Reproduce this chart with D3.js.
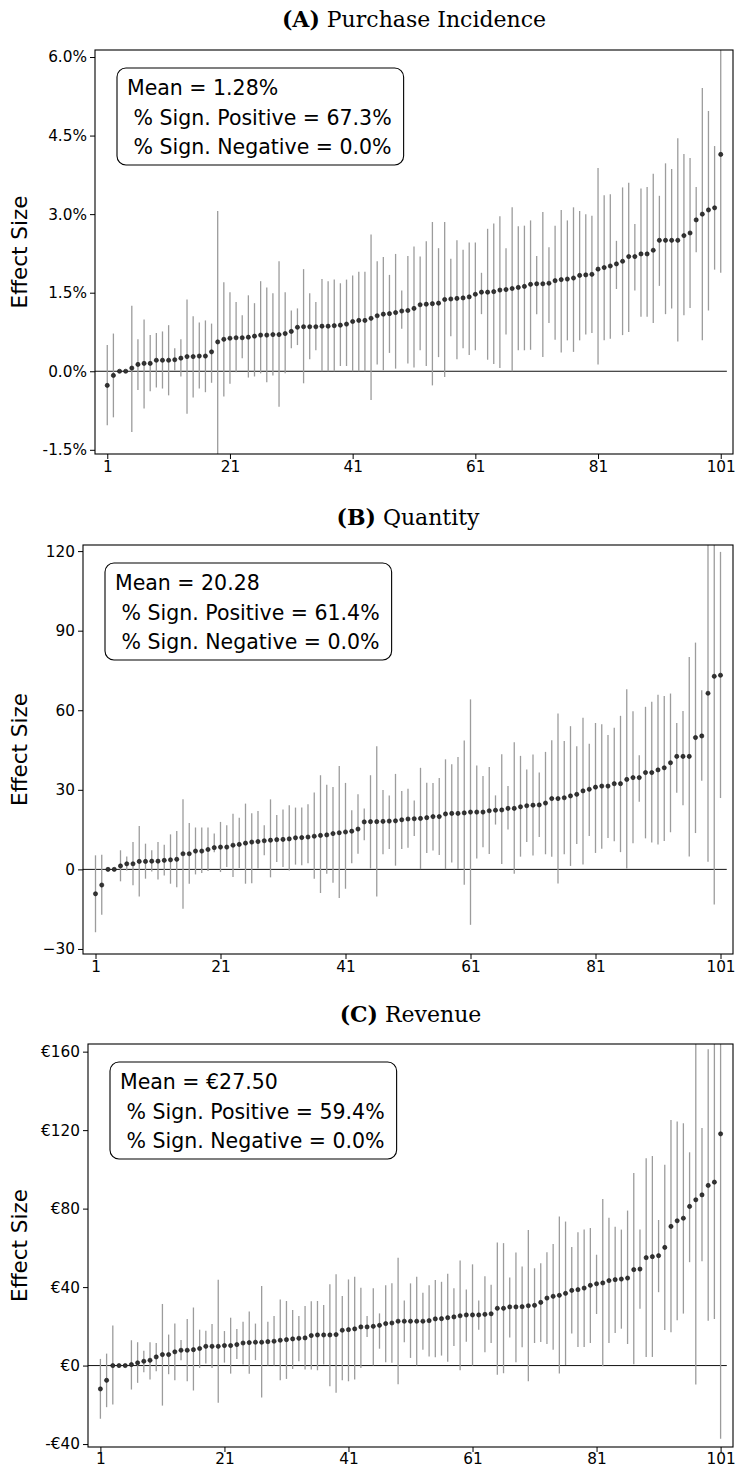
<!DOCTYPE html>
<html><head><meta charset="utf-8">
<script src="https://cdn.jsdelivr.net/npm/d3@7"></script>
<style>body{margin:0;background:#fff}svg{display:block}</style>
</head><body>
<svg id="chart" width="737" height="1468"></svg>
<script>
// ---------- DATA ----------
const xTicks = [1, 21, 41, 61, 81, 101];

const aValues = [-0.27,-0.08,0.00,0.00,0.06,0.13,0.15,0.15,0.21,0.21,0.21,0.22,0.25,0.28,0.28,0.29,0.29,0.37,0.56,0.61,
0.63,0.64,0.64,0.65,0.67,0.69,0.69,0.70,0.70,0.72,0.76,0.84,0.85,0.85,0.85,0.86,0.86,0.87,0.88,0.90,
0.95,0.97,0.97,1.01,1.06,1.09,1.10,1.12,1.15,1.16,1.20,1.27,1.28,1.29,1.30,1.37,1.38,1.39,1.40,1.42,
1.47,1.51,1.51,1.52,1.55,1.56,1.58,1.60,1.62,1.66,1.67,1.67,1.68,1.73,1.75,1.76,1.78,1.83,1.84,1.85,
1.95,1.98,2.01,2.05,2.10,2.19,2.19,2.24,2.24,2.31,2.50,2.50,2.50,2.50,2.59,2.64,2.89,3.00,3.08,3.12,4.14];
const aLower = [-1.03,-0.88,0.00,0.00,-1.16,-0.36,-0.71,-0.38,-0.31,-0.33,-0.46,0.02,-0.10,-0.81,-0.50,-0.33,-0.40,-0.22,-1.80,-0.48,
-0.24,-0.02,0.25,-0.12,-0.10,-0.04,-0.21,-0.08,-0.68,-0.04,0.44,0.50,-0.23,0.23,0.40,0.00,0.00,0.00,0.10,0.10,
0.00,0.00,0.00,-0.55,0.13,0.02,0.35,0.05,0.81,0.15,0.07,0.40,0.10,-0.27,0.27,-0.11,0.67,0.23,0.44,0.31,
0.40,1.09,0.22,0.14,0.06,0.70,0.00,0.40,0.40,0.41,1.09,0.27,0.92,0.60,0.36,0.59,0.37,0.59,0.70,0.73,
0.13,0.59,0.62,1.57,0.69,0.75,1.54,1.04,1.04,0.92,1.63,1.09,1.20,0.57,1.07,1.21,2.27,0.59,1.16,1.94,1.88];
const aUpper = [0.50,0.72,0.00,0.00,1.25,0.61,0.99,0.69,0.73,0.76,0.88,0.44,0.61,1.37,1.05,0.93,0.97,0.91,3.06,1.70,
1.51,1.32,1.07,1.45,1.30,1.72,1.60,1.49,2.10,1.51,1.16,1.20,1.95,1.49,1.32,1.76,1.72,1.75,1.68,1.75,
1.83,1.90,1.90,2.61,2.10,2.18,1.84,2.24,1.54,2.20,2.38,2.19,2.48,2.85,2.35,2.85,2.15,2.50,2.32,2.46,
2.46,1.88,2.72,2.82,2.96,2.35,3.13,2.77,2.78,2.88,2.20,3.04,2.37,2.78,3.08,2.88,3.13,3.06,3.00,2.97,
3.88,3.36,3.38,2.49,3.51,3.60,2.81,3.49,3.52,3.77,3.35,3.97,3.86,4.45,4.15,4.07,3.52,5.41,4.97,4.30,6.50];
const aTickValues = [-1.5, 0, 1.5, 3, 4.5, 6];
const aTickLabels = ["-1.5%", "0.0%", "1.5%", "3.0%", "4.5%", "6.0%"];
const aBoxLines = ["Mean = 1.28%", " % Sign. Positive = 67.3%", " % Sign. Negative = 0.0%"];

const bValues = [-9.2,-5.9,0,0,1.3,2.1,2.1,3.0,3.0,3.1,3.1,3.4,3.6,3.8,5.9,5.9,6.9,6.9,7.5,8.2,
8.4,8.4,9.1,9.4,9.9,10.3,10.5,10.8,11.0,11.2,11.3,11.5,11.9,12.0,12.2,12.5,12.8,13.0,13.5,13.8,
14.1,14.4,15.2,17.9,18.0,18.0,18.1,18.2,18.3,18.7,19.0,19.1,19.2,19.5,19.9,19.9,20.9,21.1,21.1,21.3,
21.6,21.6,21.6,22.1,22.3,22.4,23.0,23.0,23.6,24.0,24.2,24.3,25.0,26.7,26.7,27.0,27.7,28.3,29.6,30.2,
31.0,31.4,31.4,32.3,32.3,33.9,34.6,34.6,36.5,36.5,37.5,38.3,40.2,42.6,42.6,42.6,49.7,50.3,66.4,72.8,73.2];
const bLower = [-23.7,-17.1,0,0,-4.5,-0.4,-6.0,-10.2,-3.5,-0.8,-3.8,-2.3,-5.4,-6.7,-14.8,-5.4,-1.9,-1.4,-0.6,6.5,
-1.0,0.9,-2.9,0.5,-5.4,-5.2,0.3,5.3,-3.0,2.8,0.9,-0.4,1.8,1.6,2.3,-3.5,-8.9,-1.6,-5.0,-10.8,
-7.3,2.3,5.9,11.0,0.3,-10.2,5.7,7.7,1.4,7.7,8.2,12.6,0.1,6.2,7.1,5.4,0.1,2.6,0.1,-5.8,
-20.9,4.1,8.3,5.8,16.9,2.0,15.0,-1.6,4.8,10.3,5.2,12.2,5.7,4.8,-5.3,5.7,1.3,9.6,1.8,12.6,
6.2,7.8,11.8,10.6,6.5,0.3,9.9,25.5,11.7,10.1,9.4,10.7,14.0,28.9,24.2,4.9,13.7,33.4,2.9,-13.2,26.9];
const bUpper = [5.3,5.5,0,0,7.2,4.9,10.3,16.4,9.7,7.2,10.3,9.3,13.2,14.5,26.4,17.5,15.8,15.8,15.8,13.5,
17.9,16.6,21.0,19.5,24.8,21.2,22.0,16.6,26.4,20.5,22.6,24.2,23.3,23.3,24.6,29.0,35.5,31.9,31.1,39.0,
32.6,22.3,28.3,23.0,35.5,46.4,29.9,27.9,36.0,29.6,30.4,26.0,38.3,32.7,32.6,34.5,41.5,39.6,42.4,48.6,
64.1,39.2,35.2,38.6,27.9,43.4,31.4,47.9,42.8,37.7,43.3,36.5,44.3,48.7,58.8,48.4,54.0,46.4,57.2,47.4,
55.2,54.7,50.7,53.4,57.9,67.9,59.6,43.0,61.3,63.2,65.8,65.4,66.3,55.2,59.7,80.1,85.5,67.5,140,150,119.7];
const bTickValues = [-30, 0, 30, 60, 90, 120];
const bTickLabels = ["\u221230", "0", "30", "60", "90", "120"];
const bBoxLines = ["Mean = 20.28", " % Sign. Positive = 61.4%", " % Sign. Negative = 0.0%"];

const cValues = [-11.9,-7.5,0,0,0,0.5,1.4,2.2,2.7,4.4,5.6,5.6,7.0,7.8,7.8,8.1,8.7,9.8,9.8,9.8,
10.2,10.2,10.7,11.5,11.7,11.9,11.9,12.2,12.4,12.9,13.2,13.6,13.9,14.1,15.3,15.6,15.6,15.6,15.8,18.0,
18.3,18.7,19.7,19.7,20.0,20.5,21.4,21.7,22.6,22.6,22.6,22.6,22.6,22.9,23.8,23.9,24.4,24.8,25.4,25.8,
25.8,25.8,26.1,26.4,29.2,29.2,29.9,29.9,30.0,30.5,30.7,32.2,34.4,35.3,35.8,36.8,38.3,38.7,39.5,40.9,
41.7,42.1,43.3,43.8,44.1,44.6,48.9,49.2,55.0,55.5,56.0,60.2,70.9,73.8,75.1,81.1,84.5,87.0,91.8,93.5,118.1];
const cLower = [-27.1,-21.2,-19.8,0,0,-12.2,-8.8,-3.4,-7.1,-2.9,-20.4,-4.4,-7.5,2.7,-8.0,-12.7,-1.2,1.0,-1.2,-19.0,
1.5,-4.1,3.4,0.5,-4.2,2.8,-16.3,0,0,-7.5,-6.8,-1.7,2.2,-2.0,-2.0,-2.4,0.5,-10.5,-13.9,-7.5,
-8.0,-7.1,-1.2,14.6,0,8.6,1.7,1.4,-9.5,11.9,3.9,0,8.1,4.6,4.2,5.1,2.0,10.0,-2.4,12.2,
0,18.3,6.8,11.5,-4.7,-3.9,14.3,1.7,9.3,-8.0,11.5,12.0,11.0,8.1,-4.1,0.3,16.3,9.5,9.5,11.5,
26.3,-0.3,11.5,16.6,18.8,11.0,0.7,28.9,4.4,4.4,37.4,18.1,17.0,23.1,26.5,52.7,-9.7,53.2,22.9,23.7,-37.3];
const cUpper = [3.4,6.1,20.4,0,0,12.9,11.9,7.6,11.9,11.5,31.4,15.8,21.5,13.0,23.7,29.6,18.3,17.8,21.2,43.8,
17.6,24.4,18.6,22.3,27.6,21.4,40.5,22.4,25.3,33.7,32.9,28.3,25.3,30.4,32.8,32.9,30.9,41.4,46.5,35.4,
43.9,45.3,39.7,25.3,39.4,26.6,41.0,41.9,55.0,33.2,41.9,45.3,37.1,41.0,43.6,42.7,46.8,39.4,53.6,38.8,
51.6,33.2,45.5,41.2,62.7,62.4,44.9,57.6,50.5,69.1,49.6,52.2,57.8,62.0,76.0,73.4,60.4,67.9,69.3,70.1,
56.5,84.9,75.3,70.8,69.3,79.0,98.1,69.3,105.7,106.8,74.2,102.3,125.2,124.4,123.5,108.7,175,121.1,161.2,175,175];
const cTickValues = [-40, 0, 40, 80, 120, 160];
const cTickLabels = ["-\u20ac40", "\u20ac0", "\u20ac40", "\u20ac80", "\u20ac120", "\u20ac160"];
const cBoxLines = ["Mean = \u20ac27.50", " % Sign. Positive = 59.4%", " % Sign. Negative = 0.0%"];

// ---------- LAYOUT ----------
const panels = [
  {letter:"(A)", name:"Purchase Incidence", values:aValues, lower:aLower, upper:aUpper,
   ticks:aTickValues, tickLabels:aTickLabels, box:aBoxLines, yDomain:[-1.58, 6.134],
   left:95, right:733, top:50, bottom:454, titleY:27, xPad:2},
  {letter:"(B)", name:"Quantity", values:bValues, lower:bLower, upper:bUpper,
   ticks:bTickValues, tickLabels:bTickLabels, box:bBoxLines, yDomain:[-31.9, 122.3],
   left:83, right:733, top:545, bottom:954, titleY:525, xPad:2},
  {letter:"(C)", name:"Revenue", values:cValues, lower:cLower, upper:cUpper,
   ticks:cTickValues, tickLabels:cTickLabels, box:cBoxLines, yDomain:[-41.5, 163.9],
   left:88, right:733, top:1044, bottom:1447, titleY:1022, xPad:1}
];

const svg = d3.select("#chart");
const sans = "'DejaVu Sans', sans-serif";

panels.forEach((p, pi) => {
  const x = d3.scaleLinear().domain([-1, 103]).range([p.left, p.right]);
  const y = d3.scaleLinear().domain(p.yDomain).range([p.bottom, p.top]);
  const g = svg.append("g");
  const clipId = "clip" + pi;
  svg.append("clipPath").attr("id", clipId).append("rect")
    .attr("x", p.left).attr("y", p.top).attr("width", p.right - p.left).attr("height", p.bottom - p.top);

  const idx = d3.range(1, p.values.length + 1);
  const plot = g.append("g").attr("clip-path", `url(#${clipId})`);

  // zero line
  plot.append("line")
    .attr("x1", x(-1)).attr("x2", x(102))
    .attr("y1", y(0)).attr("y2", y(0))
    .attr("stroke", "#111").attr("stroke-width", 1);

  // error bars
  plot.selectAll("line.err").data(idx).join("line").attr("class", "err")
    .attr("x1", i => x(i)).attr("x2", i => x(i))
    .attr("y1", i => y(p.lower[i-1])).attr("y2", i => y(p.upper[i-1]))
    .attr("stroke", "#9c9c9c").attr("stroke-width", 1.3);

  // points
  plot.selectAll("circle.pt").data(idx).join("circle").attr("class", "pt")
    .attr("cx", i => x(i)).attr("cy", i => y(p.values[i-1]))
    .attr("r", 2.1).attr("fill", "#333").attr("stroke", "#111").attr("stroke-width", 0.6);

  // axes
  const xAxis = d3.axisBottom(x).tickValues(xTicks).tickSize(5).tickPadding(p.xPad).tickFormat(d3.format("d"));
  const gx = g.append("g").attr("transform", `translate(0,${p.bottom})`).call(xAxis);
  const yAxis = d3.axisLeft(y).tickValues(p.ticks).tickSize(5).tickPadding(3)
    .tickFormat((d, i) => p.tickLabels[i]);
  const gy = g.append("g").attr("transform", `translate(${p.left},0)`).call(yAxis);
  [gx, gy].forEach(a => {
    a.select(".domain").remove();
    a.selectAll("text").attr("font-family", sans).attr("font-size", 15.3).attr("fill", "#000");
    a.selectAll("line").attr("stroke", "#000").attr("stroke-width", 1);
  });

  // frame
  g.append("rect").attr("x", p.left).attr("y", p.top)
    .attr("width", p.right - p.left).attr("height", p.bottom - p.top)
    .attr("fill", "none").attr("stroke", "#000").attr("stroke-width", 1.1);

  // y label
  const cy = (p.top + p.bottom) / 2;
  g.append("text").attr("transform", `translate(27,${cy}) rotate(-90)`)
    .attr("text-anchor", "middle").attr("font-family", sans).attr("font-size", 21.5)
    .text("Effect Size");

  // title
  const t = g.append("text").attr("x", (p.left + p.right) / 2).attr("y", p.titleY)
    .attr("text-anchor", "middle").attr("font-family", "'DejaVu Serif', serif").attr("font-size", 22);
  t.append("tspan").attr("font-weight", "bold").text(p.letter);
  t.append("tspan").text("\u00a0" + p.name);

  // annotation box
  const bx = p.left + 22, by = p.top + 18;
  const boxG = g.append("g");
  const rect = boxG.append("rect");
  const texts = boxG.selectAll("text").data(p.box).join("text")
    .attr("x", bx + 10).attr("y", (d, i) => by + 27 + i * 29.5)
    .attr("font-family", sans).attr("font-size", 20.5)
    .style("white-space", "pre").text(d => d);
  let w = 0;
  texts.each(function(){ w = Math.max(w, this.getComputedTextLength()); });
  rect.attr("x", bx).attr("y", by).attr("width", w + 22).attr("height", 97)
    .attr("rx", 9).attr("ry", 9).attr("fill", "#fff").attr("stroke", "#000").attr("stroke-width", 1.1);
});
</script>
</body></html>
